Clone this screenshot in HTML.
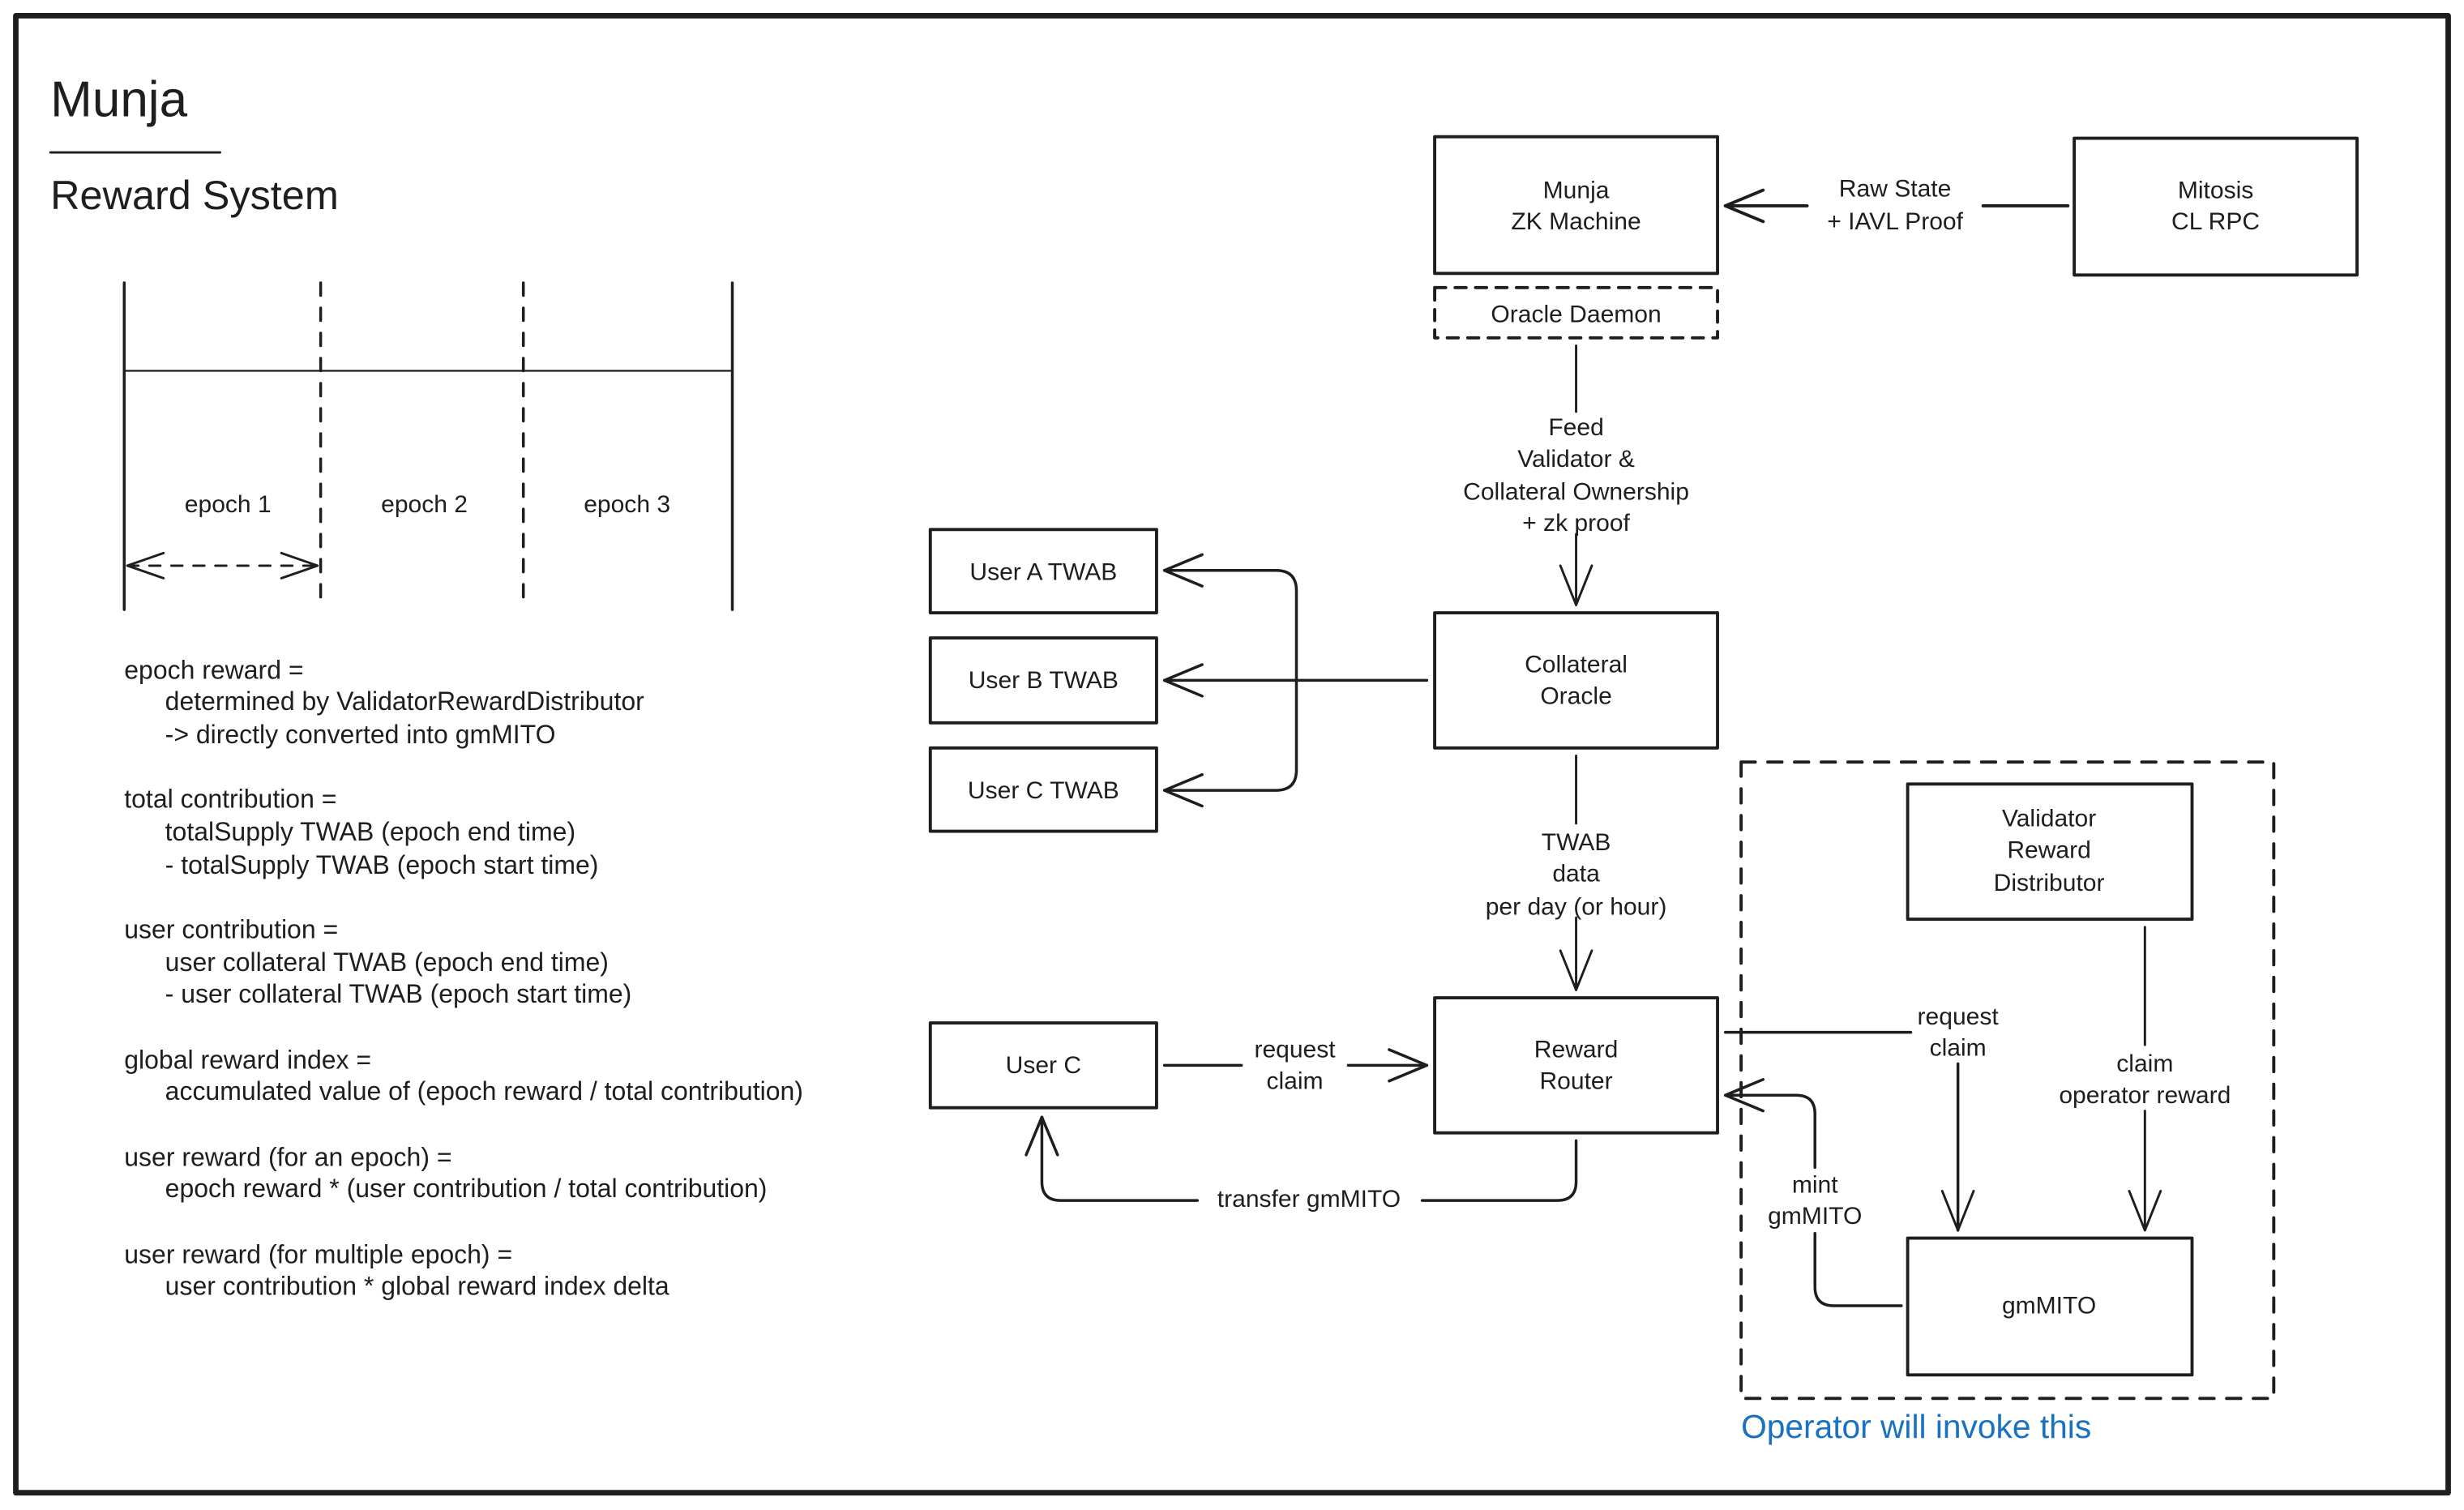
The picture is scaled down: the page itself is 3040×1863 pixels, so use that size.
<!DOCTYPE html>
<html><head><meta charset="utf-8"><style>
html,body{margin:0;padding:0;background:#fff;}
svg{display:block;}
text{font-family:"Liberation Sans",sans-serif;fill:#1e1e1e;}
</style></head><body>
<svg width="3040" height="1863" viewBox="0 0 1568 961" xmlns="http://www.w3.org/2000/svg">
<rect x="0" y="0" width="1568" height="961" fill="#fff"/>
<g fill="none" stroke="#1e1e1e" stroke-linecap="round" stroke-linejoin="round">
<rect x="10" y="10" width="1548" height="940" stroke-width="3.5"/>
<line x1="32" y1="97" x2="140" y2="97" stroke-width="1.5"/>
<line x1="79" y1="180" x2="79" y2="388" stroke-width="1.8"/>
<line x1="466" y1="180" x2="466" y2="388" stroke-width="1.8"/>
<line x1="204" y1="180" x2="204" y2="388" stroke-width="1.8" stroke-dasharray="8 8"/>
<line x1="333" y1="180" x2="333" y2="388" stroke-width="1.8" stroke-dasharray="8 8"/>
<line x1="79" y1="236" x2="466" y2="236" stroke-width="1.2"/>
<line x1="81" y1="360" x2="202" y2="360" stroke-width="1.5" stroke-dasharray="7 7"/>
<path d="M104 352 L81 360 L104 368 M179 352 L202 360 L179 368" stroke-width="1.5"/>
<rect x="913" y="87" width="180" height="87" stroke-width="2"/>
<rect x="913" y="183" width="180" height="32" stroke-width="2" stroke-dasharray="7 6"/>
<rect x="1320" y="88" width="180" height="87" stroke-width="2"/>
<rect x="913" y="390" width="180" height="86" stroke-width="2"/>
<rect x="592" y="337" width="144" height="53" stroke-width="2"/>
<rect x="592" y="406" width="144" height="54" stroke-width="2"/>
<rect x="592" y="476" width="144" height="53" stroke-width="2"/>
<rect x="913" y="635" width="180" height="86" stroke-width="2"/>
<rect x="592" y="651" width="144" height="54" stroke-width="2"/>
<rect x="1108" y="485" width="339" height="405" stroke-width="2" stroke-dasharray="9 8"/>
<rect x="1214" y="499" width="181" height="86" stroke-width="2"/>
<rect x="1214" y="788" width="181" height="87" stroke-width="2"/>
<path d="M1316 131 L1262 131 M1150 131 L1098 131" stroke-width="2"/>
<path d="M1122 121 L1098 131 L1122 141" stroke-width="2"/>
<path d="M1003 220 L1003 262 M1003 340 L1003 385" stroke-width="1.5"/>
<path d="M993 360 L1003 385 L1013 360" stroke-width="1.5"/>
<path d="M908 433 L741 433" stroke-width="1.8"/>
<path d="M741 363 L812 363 Q825 363 825 376 L825 490 Q825 503 812 503 L741 503" stroke-width="1.8"/>
<path d="M765 353 L741 363 L765 373 M765 423 L741 433 L765 443 M765 493 L741 503 L765 513" stroke-width="1.8"/>
<path d="M1003 481 L1003 524 M1003 584 L1003 630" stroke-width="1.5"/>
<path d="M993 605 L1003 630 L1013 605" stroke-width="1.5"/>
<path d="M741 678 L790 678 M858 678 L908 678" stroke-width="1.8"/>
<path d="M884 668 L908 678 L884 688" stroke-width="1.8"/>
<path d="M1003 726 L1003 752 Q1003 764 991 764 L905 764 M762 764 L675 764 Q663 764 663 752 L663 711" stroke-width="1.8"/>
<path d="M653 735 L663 711 L673 735" stroke-width="1.8"/>
<path d="M1098 657 L1216 657 M1246 677 L1246 783" stroke-width="1.8"/>
<path d="M1236 758 L1246 783 L1256 758" stroke-width="1.5"/>
<path d="M1365 590 L1365 665 M1365 707 L1365 783" stroke-width="1.5"/>
<path d="M1355 758 L1365 783 L1375 758" stroke-width="1.5"/>
<path d="M1210 831 L1167 831 Q1155 831 1155 819 L1155 785 M1155 743 L1155 709 Q1155 697 1143 697 L1098 697" stroke-width="1.8"/>
<path d="M1122 687 L1098 697 L1122 707" stroke-width="1.8"/>
</g>
<text x="32" y="74" font-size="32">Munja</text>
<text x="32" y="133" font-size="26">Reward System</text>
<g font-size="15.5" text-anchor="middle">
<text x="145" y="326">epoch 1</text>
<text x="270" y="326">epoch 2</text>
<text x="399" y="326">epoch 3</text>
<text x="1003" y="126">Munja</text><text x="1003" y="146">ZK Machine</text>
<text x="1003" y="205">Oracle Daemon</text>
<text x="1410" y="126">Mitosis</text><text x="1410" y="146">CL RPC</text>
<text x="1206" y="125">Raw State</text><text x="1206" y="146">+ IAVL Proof</text>
<text x="1003" y="277">Feed</text><text x="1003" y="297">Validator &amp;</text><text x="1003" y="318">Collateral Ownership</text><text x="1003" y="338">+ zk proof</text>
<text x="1003" y="428">Collateral</text><text x="1003" y="448">Oracle</text>
<text x="664" y="369">User A TWAB</text>
<text x="664" y="438">User B TWAB</text>
<text x="664" y="508">User C TWAB</text>
<text x="1003" y="541">TWAB</text><text x="1003" y="561">data</text><text x="1003" y="582">per day (or hour)</text>
<text x="1003" y="673">Reward</text><text x="1003" y="693">Router</text>
<text x="664" y="683">User C</text>
<text x="824" y="673">request</text><text x="824" y="693">claim</text>
<text x="833" y="768">transfer gmMITO</text>
<text x="1304" y="526">Validator</text><text x="1304" y="546">Reward</text><text x="1304" y="567">Distributor</text>
<text x="1304" y="836">gmMITO</text>
<text x="1246" y="652">request</text><text x="1246" y="672">claim</text>
<text x="1365" y="682">claim</text><text x="1365" y="702">operator reward</text>
<text x="1155" y="759">mint</text><text x="1155" y="779">gmMITO</text>
</g>
<text x="1108" y="915" font-size="21" style="fill:#1971c2">Operator will invoke this</text>
<g font-size="16.5">
<text x="79" y="432">epoch reward =</text>
<text x="105" y="452">determined by ValidatorRewardDistributor</text>
<text x="105" y="473">-&gt; directly converted into gmMITO</text>
<text x="79" y="514">total contribution =</text>
<text x="105" y="535">totalSupply TWAB (epoch end time)</text>
<text x="105" y="556">- totalSupply TWAB (epoch start time)</text>
<text x="79" y="597">user contribution =</text>
<text x="105" y="618">user collateral TWAB (epoch end time)</text>
<text x="105" y="638">- user collateral TWAB (epoch start time)</text>
<text x="79" y="680">global reward index =</text>
<text x="105" y="700">accumulated value of (epoch reward / total contribution)</text>
<text x="79" y="742">user reward (for an epoch) =</text>
<text x="105" y="762">epoch reward * (user contribution / total contribution)</text>
<text x="79" y="804">user reward (for multiple epoch) =</text>
<text x="105" y="824">user contribution * global reward index delta</text>
</g>
</svg>
</body></html>
